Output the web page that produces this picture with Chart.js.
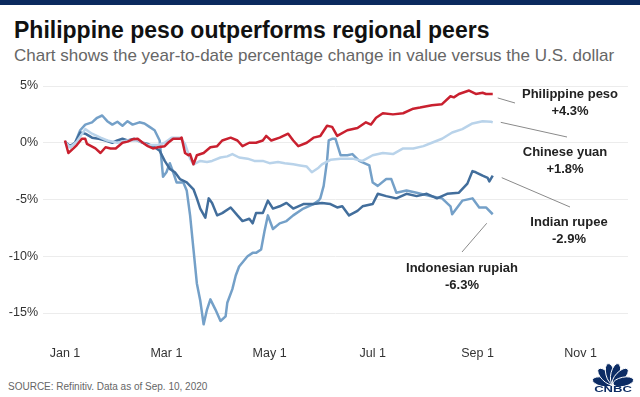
<!DOCTYPE html>
<html>
<head>
<meta charset="utf-8">
<script src="https://cdn.jsdelivr.net/npm/chart.js@4.4.1/dist/chart.umd.min.js"></script>
<style>
  html, body { margin: 0; padding: 0; background: #fff; }
  #wrap { position: relative; width: 640px; height: 397px; overflow: hidden; font-family: "Liberation Sans", Arial, sans-serif; }
  #topbar { position: absolute; left: 0; top: 0; width: 640px; height: 5px; background: #0b2a5e; }
  #title { position: absolute; left: 14px; top: 18.5px; font-size: 23px; line-height: 23px; font-weight: bold; color: #111; white-space: nowrap; }
  #subtitle { position: absolute; left: 14px; top: 46.8px; font-size: 17px; line-height: 17px; color: #666; white-space: nowrap; }
  #source { position: absolute; left: 8px; top: 382px; font-size: 10px; line-height: 10px; color: #666; white-space: nowrap; }
  #chart { position: absolute; left: 0; top: 0; }
</style>
</head>
<body>
<div id="wrap">
  <div id="topbar"></div>
  <div id="title">Philippine peso outperforms regional peers</div>
  <div id="subtitle">Chart shows the year-to-date percentage change in value versus the U.S. dollar</div>
  <div id="source">SOURCE: Refinitiv. Data as of Sep. 10, 2020</div>
  <canvas id="chart" width="640" height="397"></canvas>
</div>
<script>
// x = days since Jan 1 2020, y = % change vs USD
const tickDays = [0, 60, 121, 182, 244, 305];
const tickLabels = ['Jan 1', 'Mar 1', 'May 1', 'Jul 1', 'Sep 1', 'Nov 1'];
const yTicks = [5, 0, -5, -10, -15];

const pesoDays = [0, 2, 5, 7, 10, 12, 13, 18, 21, 24, 27, 30, 34, 37, 40, 43, 46, 49, 52, 55, 59, 61, 64, 68, 69, 71, 73, 74, 76, 78, 82, 86, 90, 93, 98, 102, 105, 109, 113, 117, 119, 122, 127, 132, 135, 138, 143, 147, 151, 155, 158, 161, 167, 173, 178, 181, 184, 188, 194, 200, 206, 210, 217, 223, 228, 230, 233, 239, 243, 247, 249, 253];
const pesoPct = [0.2, -0.9, -0.5, -0.2, 0.35, 0.35, -0.1, -0.5, -0.9, -0.4, -0.5, -0.5, 0.0, 0.1, 0.3, 0.35, 0.0, -0.3, -0.5, -0.4, -0.3, 0.0, 0.35, 0.35, 0.45, -0.9, -1.1, -1.0, -1.9, -1.1, -0.9, -0.4, -0.3, 0.2, 0.45, 0.2, -0.3, 0.0, 0.0, 0.2, 0.6, 0.2, 0.45, 0.8, 0.2, -0.3, 0.0, 0.45, 0.6, 1.5, 1.4, 0.6, 1.1, 1.3, 1.8, 1.6, 2.2, 2.6, 2.5, 2.6, 3.0, 3.1, 3.3, 3.4, 4.1, 4.0, 4.3, 4.6, 4.3, 4.4, 4.3, 4.3];

const yuanDays = [0, 3, 7, 12, 16, 21, 25, 31, 37, 43, 49, 55, 59, 63, 68, 71, 74, 76, 80, 84, 87, 92, 96, 99, 103, 108, 112, 117, 121, 126, 130, 135, 139, 143, 146, 150, 152, 157, 163, 170, 176, 182, 188, 194, 200, 206, 212, 217, 223, 229, 235, 241, 247, 252, 253];
const yuanPct = [0.1, -0.4, 0.1, 1.2, 0.8, 0.45, 0.2, 0.0, 0.2, 0.2, -0.2, -0.2, 0.0, 0.45, 0.45, -0.1, -1.4, -1.9, -1.6, -1.7, -1.6, -1.3, -1.2, -1.0, -1.3, -1.4, -1.6, -1.6, -1.8, -1.7, -1.8, -1.9, -2.0, -2.1, -2.6, -2.2, -1.9, -1.5, -1.4, -1.4, -1.6, -1.1, -0.9, -1.0, -0.5, -0.5, -0.3, 0.0, 0.35, 0.9, 1.2, 1.7, 1.9, 1.85, 1.8];

const rupeeDays = [0, 3, 6, 9, 12, 16, 20, 24, 28, 31, 34, 37, 41, 46, 49, 53, 56, 59, 62, 65, 68, 72, 76, 78, 80, 83, 85, 87, 90, 93, 98, 102, 105, 109, 111, 113, 117, 120, 123, 127, 131, 135, 141, 147, 152, 157, 161, 164, 168, 173, 176, 182, 185, 190, 196, 202, 208, 214, 220, 226, 233, 238, 241, 243, 247, 250, 251, 253];
const rupeePct = [0.1, -0.3, 0.0, 0.9, 0.8, 0.45, 0.35, 0.2, 0.0, 0.2, 0.35, 0.2, 0.35, 0.0, -0.1, -0.4, -0.7, -1.6, -2.3, -2.6, -3.2, -3.5, -4.1, -4.9, -5.8, -6.6, -4.9, -5.3, -6.4, -6.2, -5.7, -6.4, -6.9, -6.7, -7.1, -6.2, -6.2, -5.1, -5.8, -5.6, -5.3, -5.8, -5.4, -5.4, -5.3, -5.4, -5.7, -5.6, -6.4, -6.0, -5.6, -5.4, -4.5, -4.7, -4.9, -4.5, -4.7, -4.5, -4.9, -4.5, -4.4, -3.6, -2.5, -2.6, -2.9, -3.1, -3.4, -2.9];

const rupiahDays = [0, 3, 6, 9, 12, 16, 19, 22, 25, 28, 31, 34, 37, 40, 44, 47, 50, 53, 56, 58, 60, 62, 64, 66, 70, 72, 74, 76, 78, 80, 82, 84, 86, 89, 92, 95, 96, 99, 101, 103, 108, 111, 113, 116, 118, 120, 123, 127, 131, 135, 141, 147, 150, 151, 153, 155, 156, 158, 160, 163, 167, 170, 174, 180, 182, 185, 190, 193, 196, 202, 208, 216, 223, 228, 229, 235, 241, 245, 249, 253];
const rupiahPct = [0.1, -0.4, 0.0, 1.1, 1.6, 1.8, 2.2, 2.4, 1.9, 1.6, 1.85, 1.5, 1.9, 1.6, 1.8, 1.7, 1.4, 1.1, 0.2, -3.0, -2.6, -1.8, -2.6, -3.5, -3.5, -4.2, -6.4, -9.4, -12.4, -13.9, -16.0, -14.7, -13.8, -14.7, -15.7, -15.3, -14.1, -12.9, -11.7, -10.9, -10.0, -9.7, -9.7, -9.4, -7.8, -6.4, -7.6, -7.1, -6.9, -6.4, -5.8, -5.4, -5.1, -4.9, -3.8, -1.6, 0.2, 0.35, 0.35, -1.1, -1.1, -1.0, -1.6, -2.0, -3.5, -3.8, -3.2, -3.2, -4.4, -4.2, -4.4, -4.7, -4.9, -5.6, -6.3, -5.1, -4.9, -5.7, -5.7, -6.3];

const seriesNames = ['Philippine peso', 'Chinese yuan', 'Indian rupee', 'Indonesian rupiah'];
const endLabels = ['+4.3%', '+1.8%', '-2.9%', '-6.3%'];
const seriesColors = ['#c9202f', '#b9d3ea', '#426e9c', '#74a0c8'];

const toPoints = (days, pct) => days.map((d, i) => ({ x: d, y: pct[i] }));
const allSeries = [
  toPoints(pesoDays, pesoPct),
  toPoints(yuanDays, yuanPct),
  toPoints(rupeeDays, rupeePct),
  toPoints(rupiahDays, rupiahPct)
];

// label text centre, leader end point, leader start offset from last point
const labelSpots = [
  { tx: 570, ty: 94, ex: 515, ey: 103, dx: 5, dy: 4 },
  { tx: 565, ty: 152, ex: 567, ey: 137, dx: 8, dy: 0 },
  { tx: 569, ty: 222, ex: 570, ey: 207, dx: 9, dy: 2 },
  { tx: 462, ty: 268, ex: 462, ey: 252, dx: -6, dy: 9 }
];

const endLabelPlugin = {
  id: 'endLabels',
  afterDatasetsDraw(chart) {
    const ctx = chart.ctx;
    ctx.save();
    seriesNames.forEach((name, i) => {
      const pts = chart.getDatasetMeta(i).data;
      const last = pts[pts.length - 1];
      const s = labelSpots[i];
      ctx.strokeStyle = '#8a8a8a';
      ctx.lineWidth = 1;
      ctx.beginPath();
      ctx.moveTo(last.x + s.dx, last.y + s.dy);
      ctx.lineTo(s.ex, s.ey);
      ctx.stroke();
      ctx.fillStyle = '#222';
      ctx.font = 'bold 13px "Liberation Sans", Arial, sans-serif';
      ctx.textAlign = 'center';
      ctx.textBaseline = 'middle';
      ctx.fillText(name, s.tx, s.ty);
      ctx.fillText(endLabels[i], s.tx, s.ty + 17);
    });
    // CNBC peacock
    const bx = 613, by = 384;
    ctx.fillStyle = '#0c2c64';
    ctx.strokeStyle = '#fff';
    ctx.lineWidth = 1;
    [-168, -134, -104, -76, -46, -12].forEach(a => {
      const r = a * Math.PI / 180;
      ctx.beginPath();
      ctx.ellipse(bx + Math.cos(r) * 10.5, by + Math.sin(r) * 10.5, 10.5, 4.6, r, 0, Math.PI * 2);
      ctx.fill();
      ctx.stroke();
    });
    ctx.fillStyle = '#0c2c64';
    ctx.font = 'bold 9px "Liberation Sans", Arial, sans-serif';
    ctx.textBaseline = 'middle';
    ctx.translate(bx, 390);
    ctx.scale(1.45, 1);
    ctx.fillText('CNBC', 0, 0);
    ctx.restore();
  }
};

Chart.defaults.font.family = '"Liberation Sans", Arial, sans-serif';

new Chart(document.getElementById('chart'), {
  type: 'line',
  data: {
    datasets: allSeries.map((pts, i) => ({
      label: seriesNames[i],
      data: pts,
      borderColor: seriesColors[i],
      borderWidth: 2.5,
      pointRadius: 0,
      tension: 0,
      borderJoinStyle: 'round',
      fill: false
    }))
  },
  options: {
    responsive: false,
    animation: false,
    devicePixelRatio: 1,
    layout: { padding: { top: 74.65, right: 12, bottom: 31.3, left: 0 } },
    plugins: { legend: { display: false }, tooltip: { enabled: false } },
    scales: {
      x: {
        type: 'linear',
        min: -13,
        max: 333,
        afterBuildTicks: s => { s.ticks = tickDays.map(v => ({ value: v })); },
        afterFit: s => { s.height = 30; },
        grid: { display: false, drawTicks: false },
        border: { display: false },
        ticks: {
          padding: 10,
          maxRotation: 0,
          autoSkip: false,
          color: '#333',
          font: { size: 12.5 },
          callback: v => tickLabels[tickDays.indexOf(v)]
        }
      },
      y: {
        min: -17,
        max: 6,
        afterBuildTicks: s => { s.ticks = yTicks.map(v => ({ value: v })); },
        afterFit: s => { s.width = 43; },
        grid: { color: '#ececec', lineWidth: 1, drawTicks: false },
        border: { display: false },
        ticks: {
          padding: 5,
          color: '#333',
          font: { size: 12.5 },
          callback: v => v + '%'
        }
      }
    }
  },
  plugins: [endLabelPlugin]
});
</script>
</body>
</html>
